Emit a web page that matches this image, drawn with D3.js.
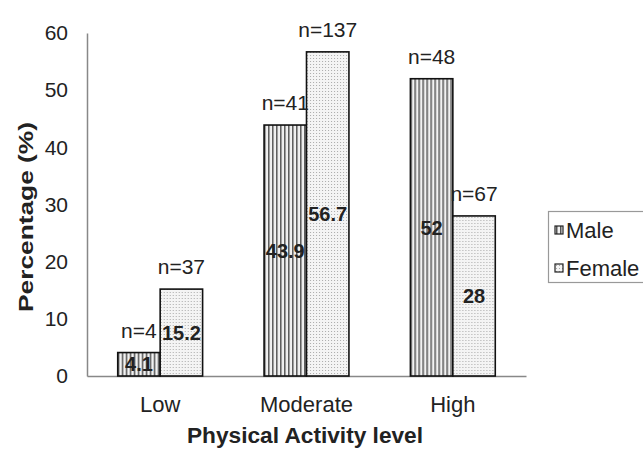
<!DOCTYPE html>
<html><head><meta charset="utf-8">
<script src="https://cdn.jsdelivr.net/npm/d3@7"></script>
<style>body{margin:0;background:#fff}svg{display:block;font-family:"Liberation Sans",Arial,sans-serif}</style>
</head><body>
<script>
const categories = ["Low", "Moderate", "High"];
const series = ["Male", "Female"];
const maleValues = [4.1, 43.9, 52];
const femaleValues = [15.2, 56.7, 28];
const maleN = ["n=4", "n=41", "n=48"];
const femaleN = ["n=37", "n=137", "n=67"];
const yTicks = [0, 10, 20, 30, 40, 50, 60];

const W = 643, H = 453;
const m = {l: 87, r: 117, t: 33, b: 77};
const FONT = "Liberation Sans, Arial, sans-serif";
const svg = d3.select("body").append("svg").attr("width", W).attr("height", H);
const defs = svg.append("defs");
const pm = defs.append("pattern").attr("id", "pMale").attr("patternUnits", "userSpaceOnUse").attr("width", 4).attr("height", 4);
pm.append("rect").attr("width", 4).attr("height", 4).attr("fill", "#f2f2f2");
pm.append("rect").attr("x", 0).attr("width", 1.5).attr("height", 4).attr("fill", "#555");
const pf = defs.append("pattern").attr("id", "pFemale").attr("patternUnits", "userSpaceOnUse").attr("width", 3).attr("height", 3);
pf.append("rect").attr("width", 3).attr("height", 3).attr("fill", "#f4f4f4");
pf.append("rect").attr("x", 1).attr("y", 1).attr("width", 1).attr("height", 1).attr("fill", "#aaa");

const x0 = d3.scaleBand().domain(categories).range([m.l, W - m.r]).paddingInner(0.42).paddingOuter(0.21);
const x1 = d3.scaleBand().domain(series).range([0, x0.bandwidth()]);
const y = d3.scaleLinear().domain([0, 60]).range([H - m.b, m.t]);

const yAxis = svg.append("g").attr("transform", `translate(${m.l},0)`)
  .call(d3.axisLeft(y).tickValues(yTicks).tickSize(0).tickPadding(19));
yAxis.select(".domain").attr("stroke", "#888").attr("stroke-width", 1.5);
yAxis.selectAll("text").attr("font-size", 21).attr("fill", "#222").attr("font-family", FONT);

const xAxis = svg.append("g").attr("transform", `translate(0,${H - m.b})`)
  .call(d3.axisBottom(x0).tickSize(0).tickPadding(20));
xAxis.select(".domain").attr("stroke", "#888").attr("stroke-width", 1.5);
xAxis.selectAll("text").attr("font-size", 22).attr("fill", "#222").attr("font-family", FONT);

const rows = categories.map((c, i) => ({c, vals: [
  {s: "Male", v: maleValues[i], n: maleN[i]},
  {s: "Female", v: femaleValues[i], n: femaleN[i]}]}));

const g = svg.selectAll("g.grp").data(rows).join("g").attr("class", "grp")
  .attr("transform", d => `translate(${x0(d.c)},0)`);
g.selectAll("rect").data(d => d.vals).join("rect")
  .attr("x", d => x1(d.s)).attr("width", x1.bandwidth())
  .attr("y", d => y(d.v)).attr("height", d => y(0) - y(d.v))
  .attr("fill", d => d.s === "Male" ? "url(#pMale)" : "url(#pFemale)")
  .attr("stroke", "#111").attr("stroke-width", 1.6);
g.selectAll("text.val").data(d => d.vals).join("text").attr("class", "val")
  .attr("x", d => x1(d.s) + x1.bandwidth() / 2)
  .attr("y", d => (y(d.v) + y(0)) / 2)
  .attr("dy", "0.36em").attr("text-anchor", "middle")
  .attr("font-size", 20).attr("font-weight", "bold").attr("fill", "#222")
  .text(d => d.v);
g.selectAll("text.n").data(d => d.vals).join("text").attr("class", "n")
  .attr("x", d => x1(d.s) + x1.bandwidth() / 2)
  .attr("y", d => y(d.v) - 15)
  .attr("text-anchor", "middle")
  .attr("font-size", 21).attr("fill", "#222")
  .text(d => d.n);

svg.append("text").attr("transform", `translate(33,${217}) rotate(-90)`)
  .attr("text-anchor", "middle")
  .attr("textLength", 190).attr("lengthAdjust", "spacingAndGlyphs")
  .attr("font-size", 20).attr("font-weight", "bold").attr("fill", "#222").text("Percentage (%)");
svg.append("text").attr("x", 305).attr("y", 443)
  .attr("text-anchor", "middle")
  .attr("textLength", 236).attr("lengthAdjust", "spacingAndGlyphs")
  .attr("font-size", 22).attr("font-weight", "bold").attr("fill", "#222").text("Physical Activity level");

const lg = svg.append("g");
lg.append("rect").attr("x", 548.5).attr("y", 211.5).attr("width", 110).attr("height", 71)
  .attr("fill", "#fff").attr("stroke", "#999").attr("stroke-width", 1.2);
series.forEach((s, i) => {
  const yy = 230 + i * 38;
  lg.append("rect").attr("x", 555).attr("y", yy - 4).attr("width", 8).attr("height", 8)
    .attr("fill", s === "Male" ? "url(#pMale)" : "url(#pFemale)").attr("stroke", "#222").attr("stroke-width", 1.2);
  lg.append("text").attr("x", 566).attr("y", yy).attr("dy", "0.36em")
    .attr("font-size", 22).attr("fill", "#222").text(s);
});
</script>
</body></html>
